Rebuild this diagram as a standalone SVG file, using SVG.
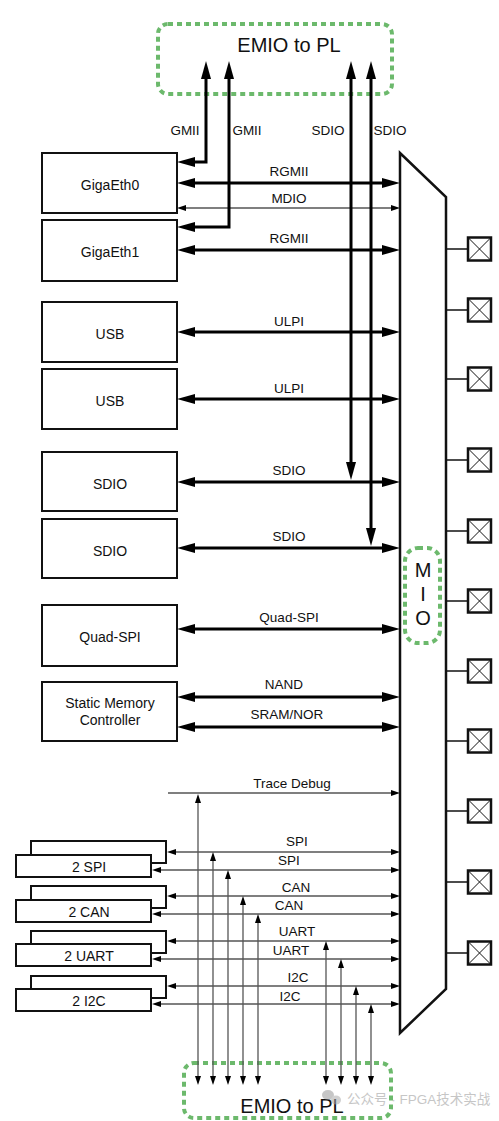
<svg xmlns="http://www.w3.org/2000/svg" width="499" height="1121" viewBox="0 0 499 1121">
<style>
text{font-family:"Liberation Sans",Arial,"Noto Sans CJK SC",sans-serif;fill:#111}
.box{fill:#fff;stroke:#111;stroke-width:2}
.bl{font-size:14px;text-anchor:middle}
.ll{font-size:13.5px;text-anchor:middle}
.thick{fill:none;stroke:#000;stroke-width:3;marker-start:url(#big);marker-end:url(#big)}
.thin{fill:none;stroke:#000;stroke-width:1.2;marker-start:url(#sm);marker-end:url(#sm)}
.vert{fill:none;stroke:#555;stroke-width:1.3;marker-start:url(#sm);marker-end:url(#sm)}
.dot{fill:none;stroke:#6cb96c;stroke-width:4;stroke-dasharray:5 4}
.pad{fill:#fff;stroke:#111;stroke-width:2.5}
.padx{stroke:#111;stroke-width:1}
.padl{stroke:#111;stroke-width:1.5}
</style>
<defs>
<marker id="big" viewBox="0 0 18 10" refX="8" refY="5" markerWidth="18" markerHeight="10" markerUnits="userSpaceOnUse" orient="auto-start-reverse"><path d="M0,0L18,5L0,10z" fill="#000"/></marker>
<marker id="sm" viewBox="0 0 9 6" refX="4" refY="3" markerWidth="9" markerHeight="6" markerUnits="userSpaceOnUse" orient="auto-start-reverse"><path d="M0,0L9,3L0,6z" fill="#000"/></marker>
<g id="pad"><line class="padl" x1="446" y1="0" x2="468" y2="0"/><rect class="pad" x="468" y="-11.5" width="23" height="23"/><line class="padx" x1="468" y1="-11.5" x2="491" y2="11.5"/><line class="padx" x1="491" y1="-11.5" x2="468" y2="11.5"/></g>
</defs>
<rect width="499" height="1121" fill="#fff"/>

<g id="emio-top">
<rect class="dot" x="158" y="24" width="234" height="70" rx="10"/>
<text x="289" y="52" style="font-size:20px;text-anchor:middle">EMIO to PL</text>
</g>
<g id="emio-bottom">
<rect class="dot" x="184" y="1063" width="207" height="55" rx="10"/>
<text x="292" y="1113" style="font-size:20px;text-anchor:middle">EMIO to PL</text>
</g>

<g id="connectors">
<path class="thick" d="M206,71V162H187"/>
<path class="thick" d="M229,71V227H187"/>
<path class="thick" d="M351,71V470"/>
<path class="thick" d="M371,71V536"/>
<line class="thick" x1="187" y1="183" x2="390" y2="183"/>
<line class="thin" x1="182" y1="208" x2="395" y2="208"/>
<line class="thick" x1="187" y1="250" x2="390" y2="250"/>
<line class="thick" x1="187" y1="332" x2="390" y2="332"/>
<line class="thick" x1="187" y1="399" x2="390" y2="399"/>
<line class="thick" x1="187" y1="482" x2="390" y2="482"/>
<line class="thick" x1="187" y1="548" x2="390" y2="548"/>
<line class="thick" x1="187" y1="629" x2="390" y2="629"/>
<line class="thick" x1="187" y1="697" x2="390" y2="697"/>
<line class="thick" x1="187" y1="727" x2="390" y2="727"/>
<line x1="168" y1="793" x2="395" y2="793" style="stroke:#000;stroke-width:1.2;marker-end:url(#sm)"/>
<line class="thin" x1="172" y1="852" x2="395" y2="852"/>
<line class="thin" x1="157" y1="870" x2="395" y2="870"/>
<line class="thin" x1="172" y1="896" x2="395" y2="896"/>
<line class="thin" x1="157" y1="914" x2="395" y2="914"/>
<line class="thin" x1="172" y1="941" x2="395" y2="941"/>
<line class="thin" x1="157" y1="959" x2="395" y2="959"/>
<line class="thin" x1="172" y1="986" x2="395" y2="986"/>
<line class="thin" x1="157" y1="1004" x2="395" y2="1004"/>
<line class="vert" x1="198" y1="799" x2="198" y2="1080"/>
<line class="vert" x1="213" y1="857" x2="213" y2="1080"/>
<line class="vert" x1="228" y1="875" x2="228" y2="1080"/>
<line class="vert" x1="243" y1="901" x2="243" y2="1080"/>
<line class="vert" x1="258" y1="919" x2="258" y2="1080"/>
<line class="vert" x1="326" y1="946" x2="326" y2="1080"/>
<line class="vert" x1="341" y1="964" x2="341" y2="1080"/>
<line class="vert" x1="356" y1="991" x2="356" y2="1080"/>
<line class="vert" x1="371" y1="1009" x2="371" y2="1080"/>
<text class="ll" x="185" y="135">GMII</text>
<text class="ll" x="247" y="135">GMII</text>
<text class="ll" x="328" y="135">SDIO</text>
<text class="ll" x="390" y="135">SDIO</text>
<text class="ll" x="289" y="176">RGMII</text>
<text class="ll" x="289" y="203">MDIO</text>
<text class="ll" x="289" y="243">RGMII</text>
<text class="ll" x="289" y="326">ULPI</text>
<text class="ll" x="289" y="393">ULPI</text>
<text class="ll" x="289" y="475">SDIO</text>
<text class="ll" x="289" y="541">SDIO</text>
<text class="ll" x="289" y="622">Quad-SPI</text>
<text class="ll" x="284" y="689">NAND</text>
<text class="ll" x="287" y="719">SRAM/NOR</text>
<text class="ll" x="292" y="788">Trace Debug</text>
<text class="ll" x="297" y="846">SPI</text>
<text class="ll" x="289" y="865">SPI</text>
<text class="ll" x="296" y="892">CAN</text>
<text class="ll" x="289" y="910">CAN</text>
<text class="ll" x="297" y="936">UART</text>
<text class="ll" x="291" y="955">UART</text>
<text class="ll" x="298" y="982">I2C</text>
<text class="ll" x="290" y="1001">I2C</text>
</g>

<g id="gigaeth0"><rect class="box" x="42" y="153" width="135" height="60"/><text class="bl" x="110" y="190">GigaEth0</text></g>
<g id="gigaeth1"><rect class="box" x="42" y="220" width="135" height="61"/><text class="bl" x="110" y="257">GigaEth1</text></g>
<g id="usb0"><rect class="box" x="42" y="302" width="135" height="60"/><text class="bl" x="110" y="339">USB</text></g>
<g id="usb1"><rect class="box" x="42" y="369" width="135" height="60"/><text class="bl" x="110" y="406">USB</text></g>
<g id="sdio0"><rect class="box" x="42" y="452" width="135" height="59"/><text class="bl" x="110" y="489">SDIO</text></g>
<g id="sdio1"><rect class="box" x="42" y="519" width="135" height="59"/><text class="bl" x="110" y="556">SDIO</text></g>
<g id="qspi"><rect class="box" x="42" y="605" width="135" height="61"/><text class="bl" x="110" y="642">Quad-SPI</text></g>
<g id="smc"><rect class="box" x="42" y="682" width="135" height="59"/><text class="bl" x="110" y="708">Static Memory</text><text class="bl" x="110" y="725">Controller</text></g>

<g id="spi"><rect class="box" x="31" y="841" width="135" height="22"/><rect class="box" x="16" y="855" width="135" height="22"/><text class="bl" x="89" y="872">2 SPI</text></g>
<g id="can"><rect class="box" x="31" y="886" width="135" height="22"/><rect class="box" x="16" y="900" width="135" height="22"/><text class="bl" x="89" y="917">2 CAN</text></g>
<g id="uart"><rect class="box" x="31" y="931" width="135" height="22"/><rect class="box" x="16" y="944" width="135" height="22"/><text class="bl" x="89" y="961">2 UART</text></g>
<g id="i2c"><rect class="box" x="31" y="976" width="135" height="22"/><rect class="box" x="16" y="989" width="135" height="22"/><text class="bl" x="89" y="1006">2 I2C</text></g>

<g id="mio">
<polygon points="400,153 446,197 446,989 400,1033" fill="#fff" stroke="#111" stroke-width="2.5"/>
<rect class="dot" x="405" y="548" width="35" height="95" rx="13"/>
<text x="423" y="577" style="font-size:20px;text-anchor:middle">M</text>
<text x="423" y="601" style="font-size:20px;text-anchor:middle">I</text>
<text x="423" y="625" style="font-size:20px;text-anchor:middle">O</text>
</g>

<g id="pads">
<use href="#pad" y="249"/>
<use href="#pad" y="310"/>
<use href="#pad" y="379"/>
<use href="#pad" y="460"/>
<use href="#pad" y="531"/>
<use href="#pad" y="601"/>
<use href="#pad" y="671"/>
<use href="#pad" y="741"/>
<use href="#pad" y="811"/>
<use href="#pad" y="882"/>
<use href="#pad" y="953"/>
</g>

<g id="watermark" opacity="0.55">
<ellipse cx="328" cy="1095" rx="6" ry="5" fill="#999"/>
<ellipse cx="336" cy="1100" rx="5" ry="4.5" fill="#aaa"/>
<text x="347" y="1104" style="font-size:13.5px;fill:#999">公众号 · FPGA技术实战</text>
</g>
</svg>
